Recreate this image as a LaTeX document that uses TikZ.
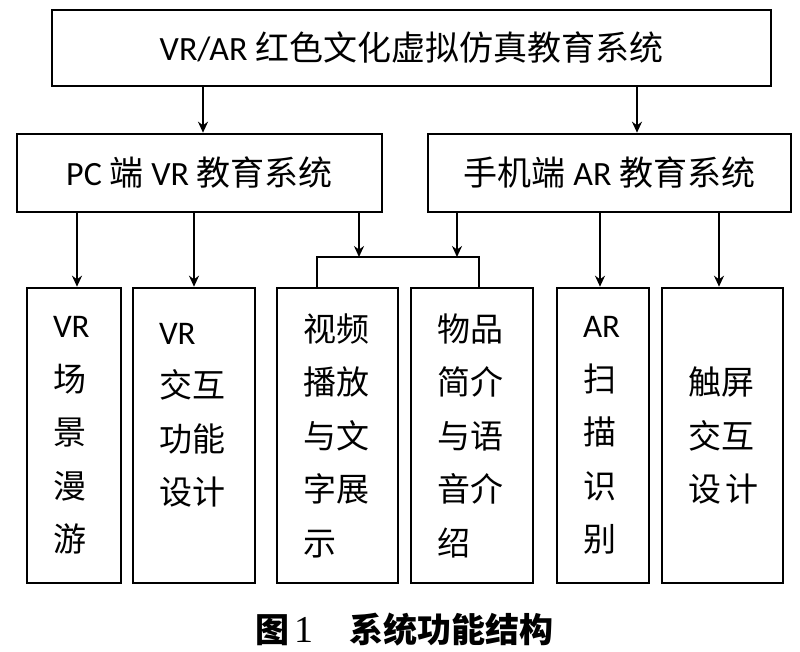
\documentclass[tikz,border=0pt]{standalone}
\usepackage{fontspec}
\setmainfont{Carlito}
\newfontfamily\zhfont{Noto Sans CJK SC}
\newfontfamily\capnum{Liberation Serif}
\usetikzlibrary{arrows.meta}
\newcommand{\zhtxt}[1]{{\zhfont #1}}
\tikzset{
  box/.style={draw=black, line width=2.6pt, inner sep=0pt, font=\fontsize{34}{40}\selectfont},
  leaf/.style={draw=black, line width=2.6pt, inner ysep=0pt, inner xsep=26pt, align=left,
    minimum height=295pt, font=\fontsize{33}{53.5}\selectfont},
  arr/.style={line width=2pt, -{Stealth[length=11pt,width=10pt]}},
  brk/.style={line width=2pt}
}
\begin{document}
\begin{tikzpicture}[x=1pt,y=-1pt]
\useasboundingbox (0,0) rectangle (800,651);
% top level
\node[box, minimum width=719pt, minimum height=76pt] (top) at (411.5,48) {VR/AR \zhtxt{红色文化虚拟仿真教育系统}};
% second level
\node[box, minimum width=365pt, minimum height=78pt] (pc) at (199.5,173) {PC \zhtxt{端} VR \zhtxt{教育系统}};
\node[box, minimum width=363pt, minimum height=78pt] (mob) at (609.5,173) {\zhtxt{手机端} AR \zhtxt{教育系统}};
% leaves
\node[leaf, text width=42pt] (b1) at (74,435.5) {VR\\\zhtxt{场}\\\zhtxt{景}\\\zhtxt{漫}\\\zhtxt{游}};
\node[leaf, text width=70pt] (b2) at (194,435.5) {VR\\\zhtxt{交互}\\\zhtxt{功能}\\\zhtxt{设计}\\[-0.8em]\strut};
\node[leaf, text width=69pt] (b3) at (337.5,435.5) {\zhtxt{视频}\\\zhtxt{播放}\\\zhtxt{与文}\\\zhtxt{字展}\\\zhtxt{示}};
\node[leaf, text width=70pt] (b4) at (472,435.5) {\zhtxt{物品}\\\zhtxt{简介}\\\zhtxt{与语}\\\zhtxt{音介}\\\zhtxt{绍}};
\node[leaf, text width=40pt] (b5) at (603,435.5) {AR\\\zhtxt{扫}\\\zhtxt{描}\\\zhtxt{识}\\\zhtxt{别}};
\node[leaf, text width=69pt] (b6) at (722.5,435.5) {\zhtxt{触屏}\\\zhtxt{交互}\\\mbox{\zhtxt{设}\kern4pt\zhtxt{计}}};
% connector x positions
\coordinate (xa) at (203,0);
\coordinate (xb) at (637,0);
\coordinate (x1) at (77,0);
\coordinate (x2) at (194,0);
\coordinate (x3) at (359,0);
\coordinate (x4) at (457,0);
\coordinate (x5) at (600,0);
\coordinate (x6) at (719,0);
\coordinate (bl) at (317,257);
\coordinate (br) at (479,257);
% arrows
\draw[arr] (top.south -| xa) -- (pc.north -| xa);
\draw[arr] (top.south -| xb) -- (mob.north -| xb);
\draw[arr] (pc.south -| x1) -- (b1.north -| x1);
\draw[arr] (pc.south -| x2) -- (b2.north -| x2);
\draw[arr] (pc.south -| x3) -- (x3 |- bl);
\draw[arr] (mob.south -| x4) -- (x4 |- bl);
\draw[arr] (mob.south -| x5) -- (b5.north -| x5);
\draw[arr] (mob.south -| x6) -- (b6.north -| x6);
% bracket
\draw[brk] (b3.north -| bl) -- (bl) -- (br) -- (b4.north -| br);
% caption
\node[font=\fontsize{34}{40}\selectfont] (cap) at (404,630) {{\zhfont\bfseries 图}\kern5pt{\capnum\fontsize{38}{40}\selectfont 1}\hspace{36pt}{\zhfont\bfseries 系统功能结构}};
\end{tikzpicture}
\end{document}
